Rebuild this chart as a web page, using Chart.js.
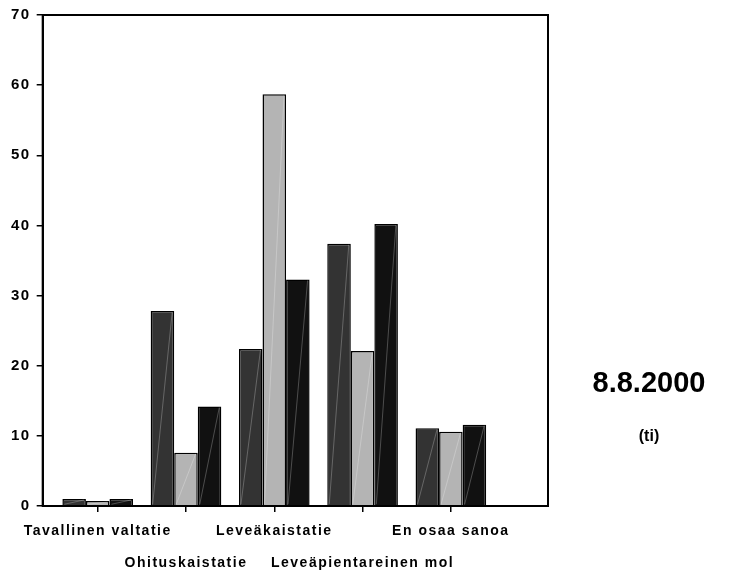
<!DOCTYPE html>
<html>
<head>
<meta charset="utf-8">
<script src="https://cdn.jsdelivr.net/npm/chart.js@4"></script>
<style>
  body { margin: 0; background: #fff; }
  #wrap { position: relative; width: 755px; height: 572px; }
  .note { position: absolute; font-family: "Liberation Sans", Arial, sans-serif; font-weight: bold; color: #000; text-align: center; width: 160px; left: 569px; }
</style>
</head>
<body>
<div id="wrap">
  <canvas id="chart" width="755" height="572"></canvas>
  <div class="note" style="top:368px; font-size:29px; line-height:29px;">8.8.2000</div>
  <div class="note" style="top:428px; font-size:16px; line-height:16px;">(ti)</div>
</div>
<script>
// kategoriat (nimet vuorottelevat kahdella rivillä)
const categories = ['Tavallinen valtatie', 'Ohituskaistatie', 'Leveäkaistatie', 'Leveäpientareinen mol', 'En osaa sanoa'];
const series1 = [1.0, 27.8, 22.4, 37.4, 11.1];
const series2 = [0.7, 7.6, 58.7, 22.1, 10.6];
const series3 = [1.0, 14.2, 32.3, 40.2, 11.6];
const yTicks = [0, 10, 20, 30, 40, 50, 60, 70];

const toPoints = vals => vals.map((v, i) => ({ x: i + 1, y: v }));
const FONT = '"Liberation Sans", Arial, sans-serif';

// harva kirjainväli kuten alkuperäisessä (canvas nollautuu, joten asetetaan joka kerta)
const spacing = {
  id: 'spacing',
  beforeLayout(chart) { chart.ctx.letterSpacing = '1.5px'; },
  beforeDraw(chart) { chart.ctx.letterSpacing = '1.5px'; }
};

// kehys + vaalea vino viiva pylväiden sisällä
const decor = {
  id: 'decor',
  afterDatasetsDraw(chart) {
    const { ctx } = chart;
    ctx.save();
    ctx.strokeStyle = 'rgba(255,255,255,0.25)';
    ctx.lineWidth = 1;
    chart.data.datasets.forEach((ds, di) => {
      chart.getDatasetMeta(di).data.forEach(bar => {
        const p = bar.getProps(['x', 'y', 'base', 'width'], true);
        ctx.beginPath();
        ctx.moveTo(p.x - p.width / 2 + 2, p.base - 1);
        ctx.lineTo(p.x + p.width / 2 - 2, p.y + 1);
        ctx.stroke();
      });
    });
    ctx.restore();
  },
  afterDraw(chart) {
    const { ctx, chartArea: a } = chart;
    ctx.save();
    ctx.strokeStyle = '#000';
    ctx.lineWidth = 2;
    ctx.strokeRect(a.left, a.top, a.right - a.left, a.bottom - a.top);
    ctx.restore();
  }
};

const ctx = document.getElementById('chart').getContext('2d');
new Chart(ctx, {
  type: 'bar',
  data: {
    datasets: [
      { data: toPoints(series1), backgroundColor: '#333333', borderColor: '#000', borderWidth: 1.5 },
      { data: toPoints(series2), backgroundColor: '#b4b4b4', borderColor: '#000', borderWidth: 1.5 },
      { data: toPoints(series3), backgroundColor: '#111111', borderColor: '#000', borderWidth: 1.5 }
    ]
  },
  options: {
    responsive: false,
    animation: false,
    layout: { padding: { left: 5, right: 207, top: 6, bottom: 0 } },
    datasets: { bar: { categoryPercentage: 0.8, barPercentage: 1.0 } },
    plugins: { legend: { display: false }, tooltip: { enabled: false } },
    scales: {
      x: {
        type: 'linear',
        offset: false,
        min: 0.377,
        max: 6.1,
        afterBuildTicks: scale => { scale.ticks = categories.map((_, i) => ({ value: i + 1 })); },
        afterFit: scale => { scale.height = 66; },
        grid: { display: true, drawOnChartArea: false, offset: false, color: '#000', lineWidth: 1.5, tickLength: 6 },
        border: { color: '#000', width: 2 },
        ticks: {
          autoSkip: false,
          maxRotation: 0,
          padding: 3,
          color: '#000',
          font: { family: FONT, size: 14, weight: 'bold', lineHeight: 2.286 },
          callback: v => {
            const i = Math.round(v) - 1;
            return i % 2 === 0 ? categories[i] : ['', categories[i]];
          }
        }
      },
      y: {
        min: 0,
        max: 70,
        afterBuildTicks: scale => { scale.ticks = yTicks.map(v => ({ value: v })); },
        grid: { display: true, drawOnChartArea: false, color: '#000', lineWidth: 1.5, tickLength: 6 },
        border: { color: '#000', width: 2 },
        ticks: {
          padding: 6,
          color: '#000',
          font: { family: FONT, size: 15, weight: 'bold' }
        }
      }
    }
  },
  plugins: [spacing, decor]
});
</script>
</body>
</html>
